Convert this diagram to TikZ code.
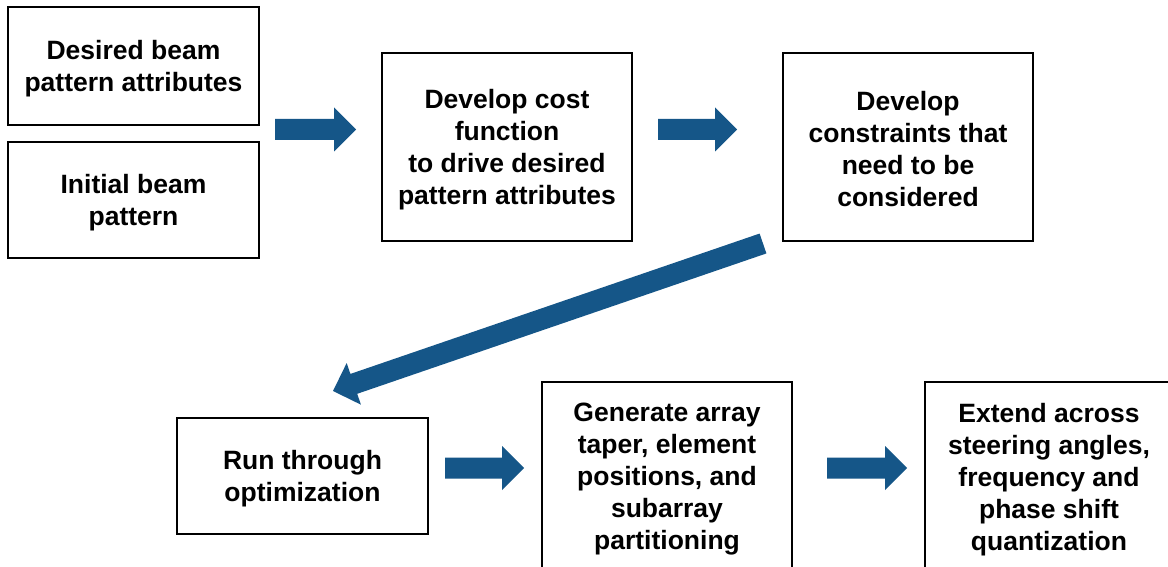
\documentclass[tikz,border=0pt]{standalone}
\usepackage{fontspec}
\setmainfont{Liberation Sans}
\usetikzlibrary{calc}
\definecolor{arrowblue}{RGB}{21,86,136}
\tikzset{
  procbox/.style={draw=black, line width=2.6pt, inner sep=0pt},
  proctext/.style={align=center, inner sep=0pt,
    font=\fontsize{26.5}{32}\selectfont\bfseries, text=black},
}
\newcommand{\blockarrow}[2]{%
  \coordinate (bah) at ($(#2)!22pt!(#1)$);
  \fill[arrowblue] ($(#1)!10.5pt!90:(#2)$) -- ($(bah)!10.5pt!-90:(#1)$)
    -- ($(bah)!22pt!-90:(#1)$) -- (#2) -- ($(bah)!22pt!90:(#1)$)
    -- ($(bah)!10.5pt!90:(#1)$) -- ($(#1)!10.5pt!-90:(#2)$) -- cycle;
}
\newcommand{\boxtext}[2]{\node[proctext] (#1-t) at ($(#1.center)+(0,2.5)$) {#2};}
\begin{document}
\begin{tikzpicture}[x=1pt,y=-1pt]
\useasboundingbox (0,0) rectangle (1168,567);
\clip (0,0) rectangle (1168,567);
\fill[white] (0,0) rectangle (1168,567);

\node[procbox, minimum width=251pt, minimum height=118pt] (desired) at (133.5,66) {};
\node[procbox, minimum width=251pt, minimum height=116pt] (initial) at (133.5,200) {};
\node[procbox, minimum width=250pt, minimum height=188pt] (cost) at (507,147) {};
\node[procbox, minimum width=250pt, minimum height=188pt] (constr) at (908,147) {};
\node[procbox, minimum width=251pt, minimum height=116pt] (run) at (302.5,476) {};
\node[procbox, minimum width=250pt, minimum height=190pt] (gen) at (667,477) {};
\node[procbox, minimum width=248pt, minimum height=190pt] (ext) at (1049,477) {};

\boxtext{desired}{Desired beam\\pattern attributes}
\boxtext{initial}{Initial beam\\pattern}
\boxtext{cost}{Develop cost\\function\\to drive desired\\pattern attributes}
\boxtext{constr}{Develop\\constraints that\\need to be\\considered}
\boxtext{run}{Run through\\optimization}
\boxtext{gen}{Generate array\\taper, element\\positions, and\\subarray\\partitioning}
\boxtext{ext}{Extend across\\steering angles,\\frequency and\\phase shift\\quantization}

\coordinate (a1s) at (275,129.5);
\coordinate (a1e) at (356,129.5);
\coordinate (a2s) at (658,129.5);
\coordinate (a2e) at (737,129.5);
\coordinate (a3s) at (763,243.5);
\coordinate (a3e) at (333,391);
\coordinate (a4s) at (445,468);
\coordinate (a4e) at (524,468);
\coordinate (a5s) at (827,468);
\coordinate (a5e) at (907,468);

\blockarrow{a1s}{a1e}
\blockarrow{a2s}{a2e}
\blockarrow{a3s}{a3e}
\blockarrow{a4s}{a4e}
\blockarrow{a5s}{a5e}
\end{tikzpicture}
\end{document}
